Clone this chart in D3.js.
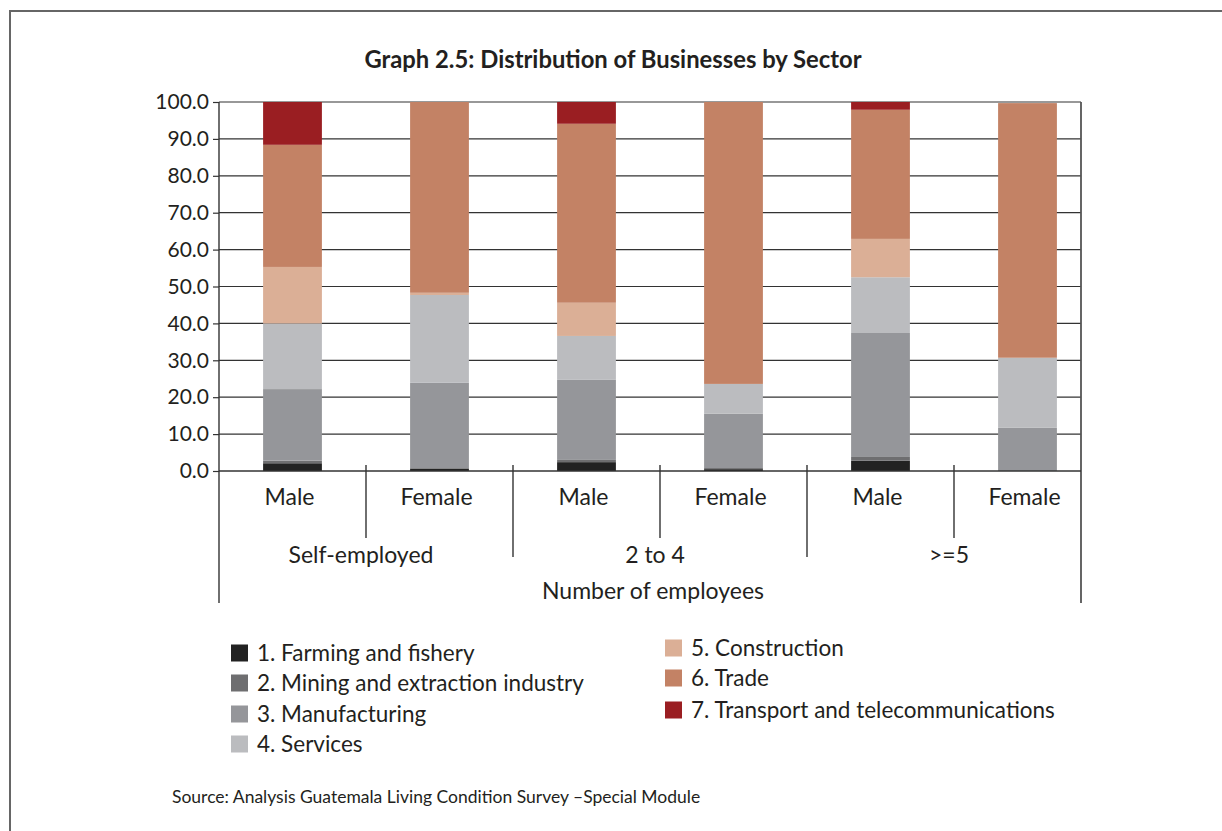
<!DOCTYPE html>
<html>
<head>
<meta charset="utf-8">
<script src="https://cdn.jsdelivr.net/npm/d3@7"></script>
<style>
  html, body { margin: 0; padding: 0; background: #fff; }
  svg text { font-family: Lato, "Noto Sans", sans-serif; fill: #231f20; }
</style>
</head>
<body>
<div id="chart"></div>
<script>
(function () {
    const width = 1222, height = 831;

    // ── DATA ───────────────────────────────────────────────────────────────
    const categories = ["Male", "Female", "Male", "Female", "Male", "Female"];
    const groups     = ["Self-employed", "2 to 4", ">=5"];
    const sectors = [
        "1. Farming and fishery",
        "2. Mining and extraction industry",
        "3. Manufacturing",
        "4. Services",
        "5. Construction",
        "6. Trade",
        "7. Transport and telecommunications"
    ];
    const farming       = [2.1, 0.6, 2.4, 0.5, 2.8, 0.0];
    const mining        = [0.7, 0.2, 0.6, 0.3, 1.0, 0.0];
    const manufacturing = [19.4, 23.1, 21.7, 14.7, 33.6, 11.7];
    const services      = [17.8, 23.8, 11.9, 8.1, 15.1, 19.0];
    const construction  = [15.3, 0.6, 9.0, 0.0, 10.4, 0.0];
    const trade         = [33.1, 51.7, 48.5, 76.4, 35.0, 69.0];
    const transport     = [11.6, 0.0, 5.9, 0.0, 2.1, 0.0];
    const yTicks = [0, 10, 20, 30, 40, 50, 60, 70, 80, 90, 100];

    const colors = ["#222222", "#6e6e70", "#95969a", "#bbbcbf", "#dbaf96", "#c38265", "#9a1e22"];
    const series = [farming, mining, manufacturing, services, construction, trade, transport];

    const rows = categories.map((c, i) => {
        const r = { idx: i };
        sectors.forEach((s, k) => { r[s] = series[k][i]; });
        return r;
    });

    // ── SVG SETUP ──────────────────────────────────────────────────────────
    const svg = d3.select("#chart").append("svg")
        .attr("width", width).attr("height", height);

    // outer frame (runs off the right and bottom edges)
    svg.append("rect")
        .attr("x", 10).attr("y", 11)
        .attr("width", 1240).attr("height", 840)
        .attr("fill", "none").attr("stroke", "#666").attr("stroke-width", 2);

    svg.append("text")
        .attr("x", 613).attr("y", 68)
        .attr("text-anchor", "middle")
        .style("font-size", "23.8px").style("font-weight", "bold")
        .text("Graph 2.5: Distribution of Businesses by Sector");

    // ── SCALES ─────────────────────────────────────────────────────────────
    const plotLeft = 219, plotRight = 1081, plotTop = 102, plotBottom = 471;
    const y = d3.scaleLinear().domain([0, 100]).range([plotBottom, plotTop]);
    const x = d3.scaleBand()
        .domain(d3.range(categories.length))
        .range([plotLeft, plotLeft + 882])
        .paddingInner(0.6).paddingOuter(0.3);
    const step = x.step();
    const boundary = i => x(i) - step * 0.3;

    // ── GRID ───────────────────────────────────────────────────────────────
    svg.append("g").selectAll("line")
        .data(yTicks.filter(t => t > 0))
        .enter().append("line")
        .attr("x1", plotLeft).attr("x2", plotRight)
        .attr("y1", d => y(d)).attr("y2", d => y(d))
        .attr("stroke", "#333").attr("stroke-width", 1.2);

    // ── BARS ───────────────────────────────────────────────────────────────
    const stacked = d3.stack().keys(sectors)(rows);
    svg.append("g").selectAll("g")
        .data(stacked)
        .enter().append("g")
        .attr("fill", (d, i) => colors[i])
        .selectAll("rect")
        .data(d => d)
        .enter().append("rect")
        .attr("x", d => x(d.data.idx))
        .attr("width", x.bandwidth())
        .attr("y", d => y(d[1]))
        .attr("height", d => Math.max(0, y(d[0]) - y(d[1])));

    // ── AXES ───────────────────────────────────────────────────────────────
    const yAxis = svg.append("g")
        .attr("transform", `translate(${plotLeft},0)`)
        .call(d3.axisLeft(y).tickValues(yTicks).tickFormat(d3.format(".1f")).tickSize(6).tickPadding(4));
    yAxis.select(".domain").remove();
    yAxis.selectAll(".tick line").attr("stroke", "#333").attr("stroke-width", 1.2);
    yAxis.selectAll(".tick text")
        .style("font-size", "21px").style("font-family", "Lato, 'Noto Sans', sans-serif")
        .attr("fill", "#231f20");

    const axisColor = "#333";
    // left & right vertical lines reaching down to the bracket bottom
    svg.append("line").attr("x1", plotLeft).attr("x2", plotLeft)
        .attr("y1", plotTop).attr("y2", 603)
        .attr("stroke", axisColor).attr("stroke-width", 1.4);
    svg.append("line").attr("x1", plotRight).attr("x2", plotRight)
        .attr("y1", plotTop).attr("y2", 603)
        .attr("stroke", "#555").attr("stroke-width", 1.8);
    // baseline
    svg.append("line").attr("x1", plotLeft).attr("x2", plotRight)
        .attr("y1", plotBottom).attr("y2", plotBottom)
        .attr("stroke", axisColor).attr("stroke-width", 1.4);

    // category separators: short inside a group, longer between groups
    svg.append("g").selectAll("line")
        .data(d3.range(1, categories.length))
        .enter().append("line")
        .attr("x1", d => boundary(d)).attr("x2", d => boundary(d))
        .attr("y1", plotBottom - 6)
        .attr("y2", d => d % 2 === 0 ? 557 : 538)
        .attr("stroke", axisColor).attr("stroke-width", 1.4);

    svg.append("g").selectAll("text")
        .data(categories)
        .enter().append("text")
        .attr("x", (d, i) => x(i) + x.bandwidth() / 2 - 3)
        .attr("y", 505)
        .attr("text-anchor", "middle")
        .style("font-size", "23px")
        .text(d => d);

    svg.append("g").selectAll("text")
        .data(groups)
        .enter().append("text")
        .attr("x", (d, i) => boundary(i * 2) + step - 5)
        .attr("y", 563)
        .attr("text-anchor", "middle")
        .style("font-size", "23px")
        .text(d => d);

    svg.append("text")
        .attr("x", 653).attr("y", 599)
        .attr("text-anchor", "middle")
        .style("font-size", "23px")
        .text("Number of employees");

    // ── LEGEND ─────────────────────────────────────────────────────────────
    const legendPos = [
        [231, 653], [231, 683], [231, 714], [231, 744],
        [665, 648], [665, 678], [665, 710]
    ];
    const legend = svg.append("g").selectAll("g")
        .data(sectors)
        .enter().append("g")
        .attr("transform", (d, i) => `translate(${legendPos[i][0]},${legendPos[i][1]})`);
    legend.append("rect")
        .attr("x", 0).attr("y", -8.5).attr("width", 17).attr("height", 17)
        .attr("fill", (d, i) => colors[i]);
    legend.append("text")
        .attr("x", 26).attr("y", 7.5)
        .style("font-size", "22.5px")
        .text(d => d);

    svg.append("text")
        .attr("x", 172).attr("y", 803)
        .style("font-size", "17.5px")
        .text("Source: Analysis Guatemala Living Condition Survey \u2013Special Module");
})();
</script>
</body>
</html>
